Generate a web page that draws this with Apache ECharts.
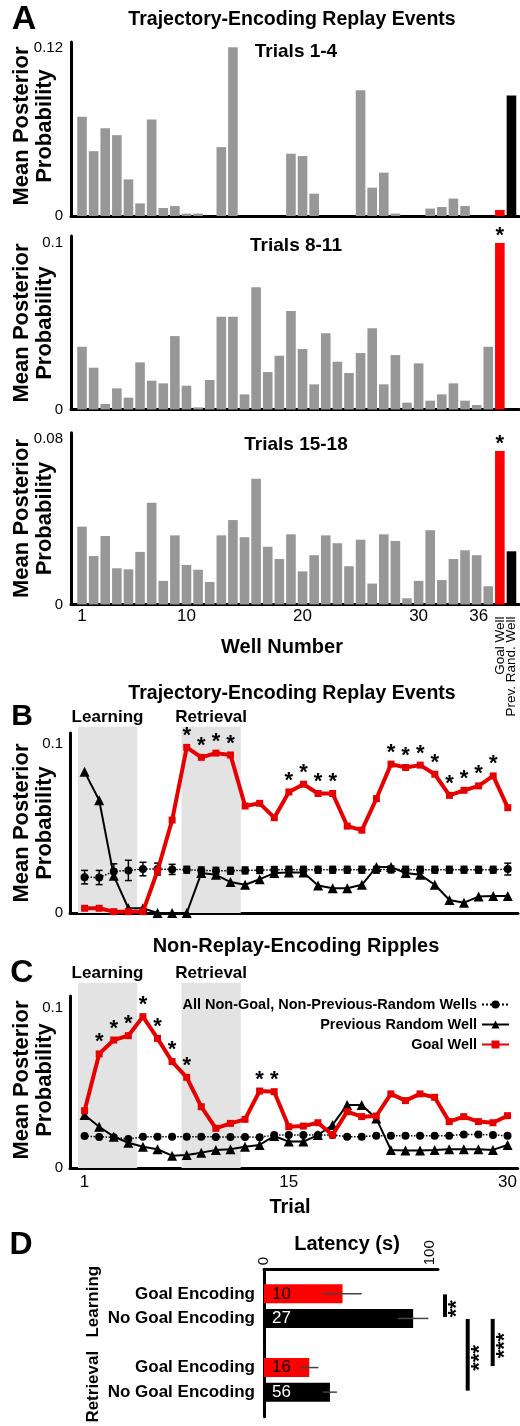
<!DOCTYPE html>
<html><head><meta charset="utf-8">
<script src="https://cdn.jsdelivr.net/npm/echarts@6/dist/echarts.min.js"></script>
<style>html,body{margin:0;padding:0;background:#fff}#c{width:520px;height:1426px}</style>
</head><body><div id="c"></div>
<script>
// ---------------- DATA ----------------
// Panel A: mean posterior probability per well
const wellTicks = [1, 10, 20, 30];
const lastWellTick = [36];
const extraWellLabels = ['Goal Well', 'Prev. Rand. Well'];
const panelATitles = ['Trials 1-4', 'Trials 8-11', 'Trials 15-18'];
const panelAYTicks = [0.12, 0.1, 0.08];
const wellsTrials1to4 = [0.0707,0.0462,0.0626,0.0576,0.0261,0.0090,0.0688,0.0057,0.0071,0.0017,0.0017,0,0.0491,0.1202,0,0,0,0,0.0444,0.0427,0.0159,0,0,0,0.0896,0.0202,0.0309,0.0017,0,0,0.0053,0.0064,0.0124,0.0071,0,0];
const wellsTrials8to11 = [0.0377,0.0251,0.0033,0.0127,0.0071,0.0283,0.0173,0.0157,0.0441,0.0143,0.0013,0.0177,0.0557,0.0557,0.0091,0.0734,0.0225,0.0323,0.0592,0.0363,0.0151,0.0458,0.0287,0.0219,0.0339,0.0488,0.0151,0.0327,0.0041,0.0277,0.0053,0.0091,0.0157,0.0053,0.0027,0.0377];
const wellsTrials15to18 = [0.0376,0.0234,0.0331,0.0175,0.0170,0.0254,0.0492,0.0114,0.0334,0.0191,0.0168,0.0109,0.0334,0.0408,0.0325,0.0607,0.0279,0.0220,0.0339,0.0160,0.0238,0.0334,0.0296,0.0185,0.0313,0.0101,0.0339,0.0307,0.0030,0.0114,0.0359,0.0118,0.0220,0.0262,0.0238,0.0088];
const goalWellValues = [0.0043, 0.1000, 0.0742];
const prevRandWellValues = [0.0858, 0, 0.0257];
const goalWellSig = [false, true, true];

// Panels B and C: per-trial mean posterior
const trialTicks = [1, 15, 30];
const phases = [{name:'Learning', from:0.54, to:4.6}, {name:'Retrieval', from:7.64, to:11.7}];
const seriesNames = ['All Non-Goal, Non-Previous-Random Wells', 'Previous Random Well', 'Goal Well'];
const replayAll = [0.0212,0.0210,0.0246,0.0252,0.0260,0.0260,0.0258,0.0256,0.0252,0.0250,0.0250,0.0252,0.0254,0.0255,0.0256,0.0256,0.0256,0.0256,0.0256,0.0256,0.0256,0.0258,0.0256,0.0256,0.0256,0.0256,0.0256,0.0256,0.0256,0.0260];
const replayAllErr = [0.004,0.0042,0.0045,0.006,0.004,0.0035,0.003,0.002,0.002,0.002,0.002,0.002,0.002,0.002,0.002,0.002,0.002,0.002,0.002,0.002,0.002,0.002,0.002,0.002,0.002,0.002,0.002,0.002,0.002,0.0035];
const replayPrev = [0.0835,0.0667,0.0220,0.0028,0.0028,0,0,0,0.0236,0.0226,0.0183,0.0167,0.0200,0.0236,0.0240,0.0240,0.0163,0.0147,0.0147,0.0167,0.0272,0.0272,0.0236,0.0226,0.0167,0.0077,0.0061,0.0097,0.0101,0.0101];
const replayGoal = [0.0028,0.0028,0.0008,0.0008,0.0008,0.0250,0.0550,0.0980,0.0921,0.0946,0.0935,0.0633,0.0649,0.0564,0.0716,0.0762,0.0707,0.0707,0.0514,0.0490,0.0677,0.0881,0.0861,0.0875,0.0821,0.0696,0.0726,0.0752,0.0811,0.0623];
const replaySigTrials = [8,9,10,11,15,16,17,18,22,23,24,25,26,27,28,29];
const rippleAll = [0.0200,0.0194,0.0192,0.0181,0.0196,0.0196,0.0196,0.0196,0.0196,0.0194,0.0194,0.0194,0.0192,0.0206,0.0206,0.0206,0.0206,0.0206,0.0196,0.0196,0.0202,0.0202,0.0202,0.0202,0.0202,0.0202,0.0210,0.0210,0.0206,0.0202];
const ripplePrev = [0.0331,0.0258,0.0196,0.0158,0.0133,0.0117,0.0077,0.0081,0.0096,0.0113,0.0117,0.0133,0.0144,0.0200,0.0165,0.0165,0.0206,0.0269,0.0394,0.0394,0.0310,0.0113,0.0110,0.0110,0.0113,0.0117,0.0117,0.0117,0.0113,0.0144];
const rippleGoal = [0.0358,0.0713,0.0800,0.0827,0.0946,0.0810,0.0665,0.0567,0.0383,0.0248,0.0279,0.0304,0.0481,0.0477,0.0258,0.0262,0.0283,0.0206,0.0352,0.0321,0.0325,0.0463,0.0421,0.0463,0.0442,0.0290,0.0321,0.0290,0.0283,0.0327];
const rippleSigTrials = [2,3,4,5,6,7,8,13,14];

// Panel D: latency
const latencyPhases = ['Learning', 'Retrieval'];
const latencyCategories = ['Goal Encoding', 'No Goal Encoding', 'Goal Encoding', 'No Goal Encoding'];
const latencyMeans = [47.4, 90.0, 27.3, 39.8];
const latencyErr = [11.6, 9.2, 5.5, 4.2];
const latencyCounts = ['10', '27', '16', '56'];
const latencyTicks = [0, 100];
const latencyComparisons = [[0, 1, '**'], [1, 3, '***'], [1, 2, '***']];

// ---------------- CHART ----------------
const FONT = '"Liberation Sans", Arial, sans-serif';
const RED = '#ff0000', LRED = '#e60000', GRAY = '#979797', SHADE = '#e3e3e3';
const chart = echarts.init(document.getElementById('c'), null, {renderer: 'canvas', width: 520, height: 1426});

const grids = [], xAxes = [], yAxes = [], series = [];
const axisLine = {show: true, onZero: false, lineStyle: {color: '#000', width: 3}};
const noSplit = {show: false};
const noTick = {show: false};
const STAR = {fontSize: 22, fontWeight: 'bold', color: '#000', fontFamily: FONT};

// ---- Panel A ----
const aData = [wellsTrials1to4, wellsTrials8to11, wellsTrials15to18];
const aLayout = [{top: 42, height: 174, max: 0.124}, {top: 236, height: 173.5, max: 0.1042}, {top: 432.7, height: 171.8, max: 0.083}];
const labelAxis = (gi, label) => ({gridIndex: gi, type: 'value', min: 0.05, max: 38.65, position: 'bottom',
  axisLine: {show: false}, axisTick: noTick, splitLine: noSplit, axisLabel: Object.assign({color: '#000', hideOverlap: false}, label)});
aData.forEach((wells, k) => {
  const L = aLayout[k];
  grids.push({left: 71, top: L.top, width: 448, height: L.height});
  const gi = grids.length - 1;
  const xi = xAxes.length;
  xAxes.push({gridIndex: gi, type: 'value', min: 0.05, max: 38.65, axisLine, axisTick: noTick, splitLine: noSplit,
    axisLabel: k === 2 ? {customValues: wellTicks, fontSize: 17, color: '#000', margin: 3} : {show: false}});
  if (k === 2) {
    extraWellLabels.forEach((lab, j) => {
      xAxes.push(labelAxis(gi, {customValues: [wells.length + 1 + j], rotate: 90, margin: 12, fontSize: 13.5, formatter: () => lab}));
    });
    xAxes.push(labelAxis(gi, {customValues: lastWellTick, align: 'right', margin: 3, fontSize: 17}));
  }
  const yi = yAxes.length;
  yAxes.push({gridIndex: gi, type: 'value', min: 0, max: L.max, axisLine, axisTick: noTick, splitLine: noSplit,
    axisLabel: {customValues: [0, panelAYTicks[k]], fontSize: 15, color: '#000', margin: 8, formatter: v => String(v)}});
  const data = wells.map((v, i) => ({value: [i + 1, v], itemStyle: {color: GRAY}}));
  data.push({value: [wells.length + 1, goalWellValues[k]], itemStyle: {color: RED},
    label: Object.assign({show: goalWellSig[k], position: 'top', formatter: '*', distance: -4}, STAR)});
  data.push({value: [wells.length + 2, prevRandWellValues[k]], itemStyle: {color: '#000'}});
  series.push({type: 'bar', xAxisIndex: xi, yAxisIndex: yi, barWidth: 9.6, data, silent: true});
});

// ---- Panels B and C ----
const lineCfg = [
  {top: 733, height: 180, max: 0.1065, shadeTop: 726.7, all: replayAll, err: replayAllErr, prev: replayPrev, goal: replayGoal, sig: replaySigTrials, labels: false},
  {top: 996, height: 172, max: 0.1075, shadeTop: 982.7, all: rippleAll, err: null, prev: ripplePrev, goal: rippleGoal, sig: rippleSigTrials, labels: true}
];
const toXY = arr => arr.map((v, i) => [i + 1, v]);
lineCfg.forEach(P => {
  grids.push({left: 70, top: P.shadeTop, width: 448, height: P.top + P.height - P.shadeTop});
  let gi = grids.length - 1;
  let xi = xAxes.length, yi = yAxes.length;
  xAxes.push({gridIndex: gi, type: 'value', min: 0, max: 30.7, show: false});
  yAxes.push({gridIndex: gi, type: 'value', min: 0, max: 1, show: false});
  series.push({type: 'line', xAxisIndex: xi, yAxisIndex: yi, data: [], silent: true,
    markArea: {silent: true, itemStyle: {color: SHADE},
      label: {show: true, position: 'top', distance: 1, color: '#000', fontWeight: 'bold', fontSize: 17, fontFamily: FONT},
      data: phases.map(p => [{xAxis: p.from, yAxis: 0, name: p.name}, {xAxis: p.to, yAxis: 1}])}});
  grids.push({left: 70, top: P.top, width: 448, height: P.height});
  gi = grids.length - 1;
  xi = xAxes.length; yi = yAxes.length;
  xAxes.push({gridIndex: gi, type: 'value', min: 0, max: 30.7, axisLine, axisTick: noTick, splitLine: noSplit,
    axisLabel: P.labels ? {customValues: trialTicks, fontSize: 17, color: '#000', margin: 6} : {show: false}});
  yAxes.push({gridIndex: gi, type: 'value', min: 0, max: P.max, axisLine, axisTick: noTick, splitLine: noSplit,
    axisLabel: {customValues: [0, 0.1], fontSize: 15, color: '#000', margin: 7, formatter: v => String(v)}});
  if (P.err) {
    series.push({type: 'custom', xAxisIndex: xi, yAxisIndex: yi, silent: true, z: 3,
      data: P.all.map((v, i) => [i + 1, v, P.err[i]]),
      renderItem: (params, api) => {
        const x = api.value(0), y = api.value(1), e = api.value(2);
        const a = api.coord([x, y + e]), b = api.coord([x, y - e]);
        const st = {stroke: '#000', lineWidth: 1.5};
        return {type: 'group', children: [
          {type: 'line', shape: {x1: a[0], y1: a[1], x2: b[0], y2: b[1]}, style: st},
          {type: 'line', shape: {x1: a[0] - 3.5, y1: a[1], x2: a[0] + 3.5, y2: a[1]}, style: st},
          {type: 'line', shape: {x1: b[0] - 3.5, y1: b[1], x2: b[0] + 3.5, y2: b[1]}, style: st}]};
      }});
  }
  series.push({type: 'line', name: seriesNames[0], xAxisIndex: xi, yAxisIndex: yi, data: toXY(P.all), silent: true, z: 4,
    symbol: 'circle', symbolSize: 8, itemStyle: {color: '#000'}, lineStyle: {color: '#000', width: 1.5, type: 'dotted'}});
  series.push({type: 'line', name: seriesNames[1], xAxisIndex: xi, yAxisIndex: yi, data: toXY(P.prev), silent: true, z: 5,
    symbol: 'triangle', symbolSize: 10, itemStyle: {color: '#000'}, lineStyle: {color: '#000', width: 2}});
  series.push({type: 'line', name: seriesNames[2], xAxisIndex: xi, yAxisIndex: yi, silent: true, z: 6,
    symbol: 'rect', symbolSize: 7, itemStyle: {color: LRED}, lineStyle: {color: LRED, width: 4},
    label: Object.assign({show: false, position: 'top', distance: -3, formatter: '*'}, STAR),
    data: P.goal.map((v, i) => ({value: [i + 1, v], label: {show: P.sig.includes(i + 1)}}))});
});

// ---- Panel D ----
const rowOf = i => (i < 2 ? i + 1 : i + 2);
const dCats = ['', latencyCategories[0], latencyCategories[1], '', latencyCategories[2], latencyCategories[3], ''];
grids.push({left: 264, top: 1269.3, width: 174, height: 147.4});
const dg = grids.length - 1, dx = xAxes.length, dy = yAxes.length;
xAxes.push({gridIndex: dg, type: 'value', position: 'top', min: 0, max: 105, axisLine, axisTick: noTick, splitLine: noSplit,
  axisLabel: {customValues: latencyTicks, rotate: -90, fontSize: 15, color: '#000', margin: 4}});
yAxes.push({gridIndex: dg, type: 'category', inverse: true, boundaryGap: false, data: dCats, axisLine, axisTick: noTick, splitLine: noSplit,
  axisLabel: {interval: 0, fontSize: 17, fontWeight: 'bold', color: '#000', margin: 9}});
series.push({type: 'bar', xAxisIndex: dx, yAxisIndex: dy, barWidth: 19, silent: true,
  data: latencyMeans.map((v, i) => ({value: [v, rowOf(i)], itemStyle: {color: i % 2 ? '#000' : RED},
    label: {show: true, position: 'insideLeft', distance: 8, fontSize: 17, color: i % 2 ? '#fff' : '#000', formatter: () => latencyCounts[i]}}))});
series.push({type: 'custom', xAxisIndex: dx, yAxisIndex: dy, silent: true, z: 5,
  data: latencyMeans.map((v, i) => [v, rowOf(i), latencyErr[i]]),
  renderItem: (params, api) => {
    const v = api.value(0), r = api.value(1), e = api.value(2);
    const a = api.coord([v - e, r]), b = api.coord([v + e, r]);
    return {type: 'line', shape: {x1: a[0], y1: a[1], x2: b[0], y2: b[1]}, style: {stroke: '#444', lineWidth: 1.5}};
  }});
const sigLineX = [445, 467.7, 492.7];
series.push({type: 'custom', xAxisIndex: dx, yAxisIndex: dy, silent: true, clip: false, z: 5,
  data: latencyComparisons.map(c => [rowOf(c[0]), rowOf(c[1])]),
  renderItem: (params, api) => {
    const c = latencyComparisons[params.dataIndex];
    const y1 = api.coord([0, api.value(0)])[1] + 0.5, y2 = api.coord([0, api.value(1)])[1] - 1.5;
    const x = sigLineX[params.dataIndex];
    return {type: 'group', children: [
      {type: 'line', shape: {x1: x, y1, x2: x, y2}, style: {stroke: '#000', lineWidth: 4}},
      {type: 'text', x: x + 12, y: (y1 + y2) / 2 + 3, rotation: Math.PI / 2,
        style: {text: c[2], font: 'bold 22px ' + FONT, align: 'center', verticalAlign: 'middle', fill: '#000'}}]};
  }});

// ---- Text elements ----
const T = (text, x, y, size, o = {}) => ({type: 'text', x, y, rotation: o.rot || 0, silent: true,
  style: {text, font: (o.weight || 'bold') + ' ' + size + 'px ' + FONT, align: o.align || 'center', textAlign: o.align || 'center',
    verticalAlign: 'middle', textVerticalAlign: 'middle', fill: '#000', lineHeight: o.lh || size}});
const yName = 'Mean Posterior\nProbability';
const graphics = [
  T('A', 24, 19.5, 34),
  T('Trajectory-Encoding Replay Events', 292, 20, 19.5),
  T(panelATitles[0], 296, 52, 19),
  T(panelATitles[1], 296, 246, 19),
  T(panelATitles[2], 296, 445, 19),
  T(yName, 33.5, 126, 22, {rot: Math.PI / 2, lh: 23.5}),
  T(yName, 33.5, 323, 22, {rot: Math.PI / 2, lh: 23.5}),
  T(yName, 33.5, 518.5, 22, {rot: Math.PI / 2, lh: 23.5}),
  T('Well Number', 282, 647, 20),
  T('B', 22, 716.7, 30),
  T('Trajectory-Encoding Replay Events', 292, 693.3, 19.5),
  T(yName, 33.5, 823, 22, {rot: Math.PI / 2, lh: 23.5}),
  T('C', 21.7, 972.7, 32),
  T('Non-Replay-Encoding Ripples', 296, 946.7, 20),
  T(yName, 33.5, 1080, 22, {rot: Math.PI / 2, lh: 23.5}),
  T('Trial', 290, 1207.3, 20),
  T('D', 21, 1245, 32),
  T('Latency (s)', 347, 1244.3, 20),
  T(latencyPhases[0], 93, 1301.7, 17, {rot: Math.PI / 2}),
  T(latencyPhases[1], 93, 1386.7, 17, {rot: Math.PI / 2})
];

chart.setOption({
  animation: false,
  textStyle: {fontFamily: FONT},
  grid: grids,
  xAxis: xAxes,
  yAxis: yAxes,
  legend: {orient: 'vertical', right: 5, top: 992, align: 'right', itemWidth: 27, itemHeight: 10, itemGap: 5,
    selectedMode: false, data: seriesNames,
    textStyle: {fontSize: 14.5, fontWeight: 'bold', color: '#000', fontFamily: FONT}},
  series,
  graphic: graphics
});
</script>
</body></html>
